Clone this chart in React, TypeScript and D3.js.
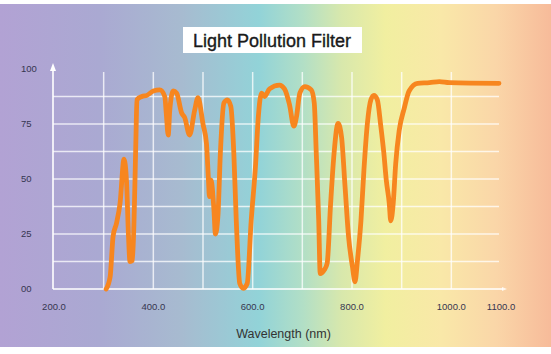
import * as d3 from "d3";

// transmission curve
const wavelengths = [
  305, 313, 319, 326, 333, 341, 346, 350, 353, 358, 362, 365, 367, 377, 387, 400, 413, 423, 426, 430,
  433, 440, 447, 457, 463, 473, 483, 490, 500, 507, 511, 513, 516, 522, 525, 530, 535, 542, 549, 556,
  562, 567, 574, 581, 589, 597, 606, 611, 618, 624, 634, 654, 664, 674, 683, 688, 695, 705, 718, 724,
  728, 733, 736, 744, 750, 757, 764, 772, 779, 786, 793, 801, 806, 811, 818, 824, 831, 838, 844, 851,
  858, 864, 869, 875, 878, 883, 888, 895, 905, 915, 932, 956, 976, 996, 1096,
];
const transmission = [
  0, 5.5, 24, 30, 39, 59, 49, 24, 12.5, 13, 39, 69, 86, 87.5, 88, 90, 90.5, 87.5, 80, 70,
  81, 90, 89, 80, 78, 70, 81, 87, 75, 66, 49.5, 42, 49.5, 36, 25, 33, 62, 84.5, 86, 83,
  62, 31, 2.5, 0.3, 2.5, 31, 57, 77, 89, 87.5, 91, 92.7, 91, 84, 74, 78, 89, 92, 90.5, 84.5,
  62, 31, 7, 8.6, 11.7, 39, 62, 75.3, 69, 46.5, 24, 10, 3.3, 13, 31, 54, 75.3, 86, 88, 86,
  74, 62, 49.5, 39, 31, 39, 57, 72, 82, 90, 93.5, 93.8, 94.3, 93.8, 93.5,
];

const xTickLabels = [200, 400, 600, 800, 1000, 1100];
const xGrid = [300, 400, 500, 600, 700, 800, 900, 1000];
const yTickLabels = [0, 25, 50, 75, 100];
const yGrid = [12.5, 25, 37.5, 50, 62.5, 75, 87.5];

const W = 551;
const H = 354;
const FONT = "'Liberation Sans', Arial, sans-serif";

export default function App() {
  const x = d3.scaleLinear().domain([200, 1100]).range([54, 501]);
  const y = d3.scaleLinear().domain([0, 100]).range([289, 69]);

  const pts = wavelengths.map((w, i) => [w, transmission[i]] as [number, number]);
  const line = d3
    .line<[number, number]>()
    .x((d) => x(d[0]))
    .y((d) => y(d[1]))
    .curve(d3.curveMonotoneX);

  const axisX = x(200) - 1;
  const gridRight = 499;
  const gridTop = 72;

  return (
    <svg
      width={W}
      height={H}
      style={{ position: "fixed", left: 0, top: 0, display: "block" }}
    >
      <defs>
        <linearGradient id="spectrum" x1="0" x2="1" y1="0" y2="0">
          <stop offset="0" stopColor="#b2a2d4" />
          <stop offset="0.18" stopColor="#aaa9d2" />
          <stop offset="0.33" stopColor="#a7bbd0" />
          <stop offset="0.47" stopColor="#92d3d8" />
          <stop offset="0.55" stopColor="#b2dfc6" />
          <stop offset="0.62" stopColor="#d8e8ac" />
          <stop offset="0.7" stopColor="#f1efa0" />
          <stop offset="0.8" stopColor="#f9e8a8" />
          <stop offset="0.9" stopColor="#fad6a8" />
          <stop offset="1" stopColor="#f7bb9a" />
        </linearGradient>
      </defs>
      <rect x={0} y={0} width={W} height={H} fill="#fff" />
      <rect x={0} y={4} width={W} height={343} fill="url(#spectrum)" />

      {/* title */}
      <rect x={183} y={27} width={179} height={26} fill="#fff" />
      <text
        x={272}
        y={47}
        textAnchor="middle"
        fontFamily={FONT}
        fontSize={18}
        fill="#1a1a1a"
        stroke="#1a1a1a"
        strokeWidth={0.35}
      >
        Light Pollution Filter
      </text>

      {/* grid */}
      {yGrid.map((v) => (
        <line
          key={"h" + v}
          x1={axisX}
          x2={gridRight}
          y1={y(v)}
          y2={y(v)}
          stroke="#fff"
          strokeOpacity={0.75}
          strokeWidth={1.5}
        />
      ))}
      {xGrid.map((v) => (
        <line
          key={"v" + v}
          x1={x(v)}
          x2={x(v)}
          y1={gridTop}
          y2={y(0)}
          stroke="#fff"
          strokeOpacity={0.75}
          strokeWidth={1.5}
        />
      ))}

      {/* axes */}
      <line x1={axisX} x2={axisX} y1={y(0)} y2={68} stroke="#fff" strokeWidth={1.6} />
      <path d={`M${axisX - 3},${71} L${axisX},${63} L${axisX + 3},${71} Z`} fill="#fff" />
      <line x1={axisX} x2={503} y1={y(0)} y2={y(0)} stroke="#fff" strokeWidth={1.6} />
      <path d={`M502,${y(0) - 2} L507,${y(0)} L502,${y(0) + 2} Z`} fill="#fff" fillOpacity={0.8} />

      {yTickLabels.map((v) => (
        <text
          key={"yl" + v}
          x={21}
          y={y(v)}
          dy="0.35em"
          fontFamily={FONT}
          fontSize={9.5}
          fill="#363650"
        >
          {v === 0 ? "00" : v}
        </text>
      ))}
      {xTickLabels.map((v) => (
        <text
          key={"xl" + v}
          x={x(v)}
          y={310}
          textAnchor="middle"
          fontFamily={FONT}
          fontSize={9.5}
          fill="#363650"
        >
          {v.toFixed(1)}
        </text>
      ))}
      <text x={283.5} y={338} textAnchor="middle" fontFamily={FONT} fontSize={12.5} fill="#333">
        Wavelength (nm)
      </text>

      <path
        d={line(pts) ?? ""}
        fill="none"
        stroke="#f7861f"
        strokeWidth={4.8}
        strokeLinejoin="round"
        strokeLinecap="round"
      />
    </svg>
  );
}
